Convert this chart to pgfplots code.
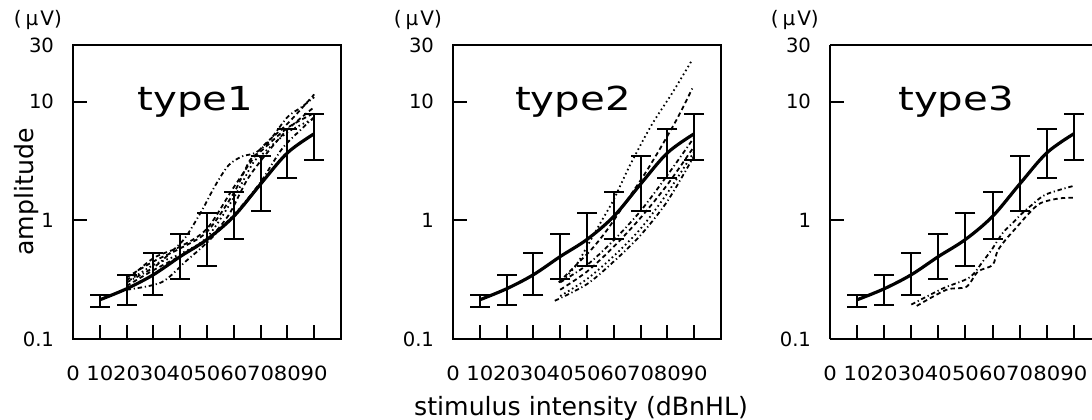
\documentclass[border=0pt]{standalone}
\usepackage{fontspec}
\setmainfont{DejaVu Sans}
\usepackage{pgfplots}
\usepackage{pgfplotstable}
\pgfplotsset{compat=1.18}

% mean amplitude with the ends of its error bars (lo, hi); ep = hi - y, em = y - lo
\pgfplotstableread{
x  y      lo     hi     ep     em
10 0.214  0.187  0.236  0.022  0.027
20 0.265  0.194  0.348  0.083  0.071
30 0.348  0.236  0.535  0.187  0.112
40 0.495  0.323  0.76   0.265  0.172
50 0.69   0.41   1.15   0.46   0.28
60 1.08   0.69   1.73   0.65   0.39
70 2.02   1.19   3.49   1.47   0.83
80 3.7    2.27   5.9    2.2    1.43
90 5.36   3.22   7.9    2.54   2.14
}\meantab

\pgfplotsset{
  mypanel/.style={
    scale only axis, height=147bp,
    ymin=0.1, ymax=30, xmin=0, clip=false,
    xtick={0,10,...,90},
    ytick={0.1,1,10,30}, yticklabels={0.1,1,10,30},
    yminorticks=false,
    tick align=inside, tick pos=left,
    major tick length=7bp,
    every tick/.style={black, line width=1bp},
    axis line style={line width=1bp},
    tick label style={font=\fontsize{9.8bp}{11bp}\selectfont},
    xticklabel style={yshift=-10bp, xscale=1.08},
    yticklabel style={xshift=-6bp},
  },
  mymean/.style={black, line width=1.6bp, smooth, tension=0.55, mark=none,
    error bars/.cd, y dir=both, y explicit, error mark=none,
    error bar style={line width=1bp, solid, black}},
  mycap/.style={black, only marks, mark=-, mark size=5bp, mark options={line width=1bp, solid}},
  mydsh/.style={black, line width=0.9bp, smooth, tension=0.5, mark=none, dash pattern=on 2.2bp off 1.6bp},
  myddt/.style={black, line width=0.9bp, smooth, tension=0.5, mark=none, dash pattern=on 2.2bp off 1.4bp on 0.6bp off 1.4bp},
  mydot/.style={black, line width=0.9bp, smooth, tension=0.5, mark=none, dash pattern=on 0.8bp off 1.5bp},
}

\newcommand{\unitnode}[1]{\node[font=\fontsize{10bp}{11bp}\selectfont, anchor=center] at (rel axis cs:#1,1.085) {(\kern2bp μ\kern1bp V)};}

\begin{document}
\begin{tikzpicture}
\useasboundingbox (0,0) rectangle (546bp,210bp);

% ---------------- type1 ----------------
\begin{axis}[ymode=log, mypanel, width=134bp, xmax=100,
  /pgf/number format/assume math mode=true,
  at={(36.5bp,40.5bp)}, anchor=south west,
  ylabel={amplitude},
  every axis y label/.style={at={(axis description cs:-0.172,0.5)}, rotate=90, anchor=center, font=\fontsize{12.6bp}{14bp}\selectfont}]
\addplot[myddt] coordinates {(20,0.30) (30,0.40) (37,0.55) (42,0.72) (48,1.2) (53,1.95) (58,2.9) (63,3.45) (68,3.7) (73,4.6) (80,7.4) (85,8.9) (90,10.9)};
\addplot[mydsh] coordinates {(20,0.33) (30,0.45) (40,0.58) (50,0.80) (60,1.7) (66,3.2) (70,3.8) (80,6.0) (90,8.0)};
\addplot[mydot] coordinates {(20,0.30) (30,0.42) (40,0.52) (50,0.72) (60,1.55) (67,3.0) (70,3.5) (80,5.5) (90,7.2)};
\addplot[mydsh] coordinates {(20,0.31) (30,0.48) (40,0.60) (50,0.85) (60,1.9) (70,4.0) (80,6.5) (90,11.5)};
\addplot[myddt] coordinates {(20,0.26) (33,0.30) (42,0.45) (50,0.65) (62,1.25) (70,2.1) (78,4.0) (85,5.8) (90,7.4)};
\addplot[mydsh] coordinates {(20,0.28) (30,0.38) (40,0.50) (50,0.68) (58,1.1) (65,2.2) (72,3.6) (80,5.8) (90,9.0)};
\addplot[mymean] table[x=x, y=y, y error plus=ep, y error minus=em] {\meantab};
\addplot[mycap] table[x=x, y=lo] {\meantab};
\addplot[mycap] table[x=x, y=hi] {\meantab};
\node[anchor=base west, font=\fontsize{16.5bp}{18bp}\selectfont, xscale=1.22, inner sep=0pt] at (axis cs:24,8.4) {type1};
\unitnode{-0.131}
\end{axis}

% ---------------- type2 ----------------
\begin{axis}[ymode=log, mypanel, width=134bp, xmax=100,
  /pgf/number format/assume math mode=true,
  at={(226.5bp,40.5bp)}, anchor=south west,
  xlabel={stimulus intensity (dBnHL)},
  every axis x label/.style={at={(axis description cs:0.478,-0.238)}, anchor=center, font=\fontsize{12.6bp}{14bp}\selectfont}]
\addplot[mydot] coordinates {(42,0.33) (46,0.42) (50,0.6) (55,0.95) (60,1.5) (66,2.9) (74,6.3) (82,12) (89,22)};
\addplot[mydsh] coordinates {(39.5,0.30) (44.5,0.39) (52,0.58) (58,0.86) (64,1.37) (71.5,2.45) (77.5,4.1) (83.8,7.3) (89.3,12.9)};
\addplot[myddt] coordinates {(40,0.30) (50,0.42) (60,0.68) (70,1.2) (80,2.4) (90,5.0)};
\addplot[mydsh] coordinates {(40,0.26) (50,0.37) (60,0.60) (70,1.05) (80,2.0) (90,4.2)};
\addplot[mydot] coordinates {(40,0.23) (50,0.32) (60,0.50) (70,0.85) (80,1.7) (90,3.8)};
\addplot[myddt] coordinates {(38,0.21) (50,0.29) (60,0.45) (70,0.75) (80,1.45) (90,3.5)};
\addplot[mymean] table[x=x, y=y, y error plus=ep, y error minus=em] {\meantab};
\addplot[mycap] table[x=x, y=lo] {\meantab};
\addplot[mycap] table[x=x, y=hi] {\meantab};
\node[anchor=base west, font=\fontsize{16.5bp}{18bp}\selectfont, xscale=1.22, inner sep=0pt] at (axis cs:23,8.4) {type2};
\unitnode{-0.131}
\end{axis}

% ---------------- type3 (cut off at the right edge) ----------------
\begin{axis}[ymode=log, mypanel, width=131bp, xmax=96.7,
  /pgf/number format/assume math mode=true,
  axis lines*=left, axis line style={-, line width=1bp},
  at={(415bp,40.5bp)}, anchor=south west]
\draw[line width=1bp] (rel axis cs:0,1) -- (rel axis cs:1,1);
\addplot[myddt] coordinates {(30,0.195) (41.7,0.267) (51.5,0.33) (56.4,0.45) (60,0.58) (63.7,0.78) (67.4,0.95) (71,1.15) (74.7,1.36) (79.6,1.65) (89.5,1.94)};
\addplot[mydsh] coordinates {(32,0.19) (43,0.26) (50.3,0.275) (54.6,0.37) (60,0.42) (61.8,0.55) (64.9,0.69) (68.6,0.86) (73.5,1.15) (77.8,1.40) (84.6,1.53) (90,1.55)};
\addplot[mymean] table[x=x, y=y, y error plus=ep, y error minus=em] {\meantab};
\addplot[mycap] table[x=x, y=lo] {\meantab};
\addplot[mycap] table[x=x, y=hi] {\meantab};
\node[anchor=base west, font=\fontsize{16.5bp}{18bp}\selectfont, xscale=1.22, inner sep=0pt] at (axis cs:25,8.4) {type3};
\unitnode{-0.1345}
\end{axis}

\end{tikzpicture}
\end{document}
